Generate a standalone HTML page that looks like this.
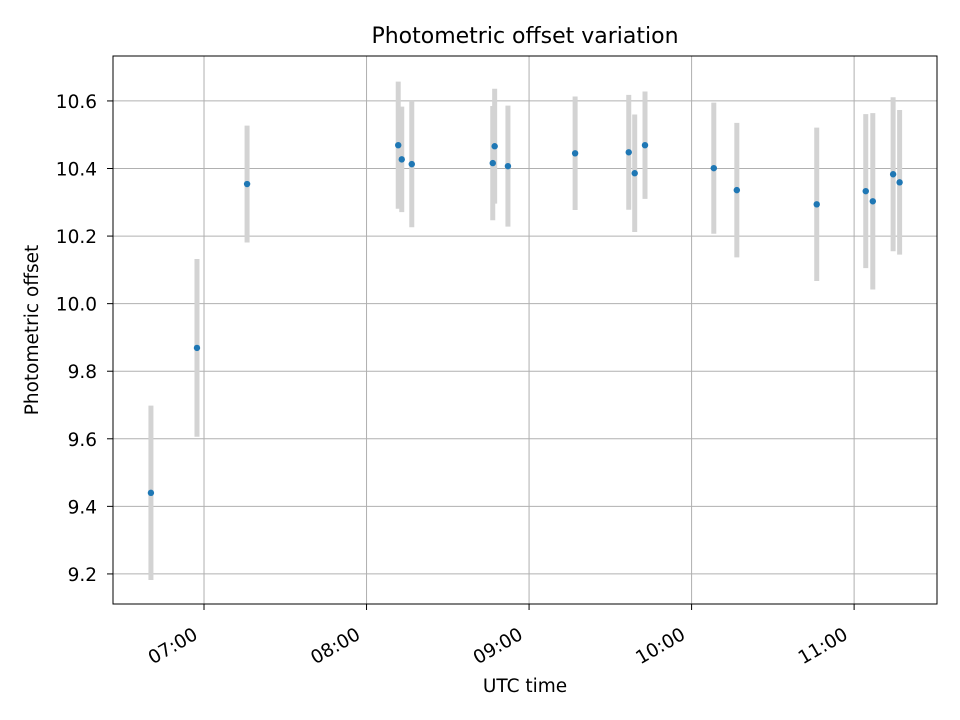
<!DOCTYPE html>
<html><head><meta charset="utf-8"><style>
html,body{margin:0;padding:0;background:#fff;}
svg{display:block;font-family:"DejaVu Sans","Liberation Sans",sans-serif;}
</style></head><body>
<svg id="chart" width="960" height="720" viewBox="0 0 960 720">
<rect width="960" height="720" fill="#fff"/>
<g id="grid"></g>
<g id="errs"></g>
<g id="pts"></g>
<rect x="113" y="56" width="824" height="548" fill="none" stroke="#000" stroke-width="1"/>
<g id="ticks"></g>
<text x="525" y="43" text-anchor="middle" font-size="22">Photometric offset variation</text>
<text x="525" y="692" text-anchor="middle" font-size="18.5">UTC time</text>
<text x="0" y="0" transform="translate(38,330) rotate(-90)" text-anchor="middle" font-size="18.5">Photometric offset</text>
</svg>
<script>
// times in minutes since midnight UTC
const times = [400.4,417.4,435.9,491.7,493.0,496.7,526.6,527.3,532.2,557.0,576.8,579.0,582.8,608.2,616.7,646.2,664.3,666.9,674.4,676.8];
const values = [9.44,9.869,10.354,10.469,10.427,10.413,10.416,10.466,10.407,10.445,10.448,10.386,10.469,10.401,10.336,10.294,10.333,10.303,10.383,10.359];
const errors = [0.258,0.263,0.173,0.188,0.156,0.187,0.169,0.170,0.179,0.168,0.170,0.174,0.159,0.194,0.199,0.227,0.228,0.261,0.228,0.214];
const xTickMinutes = [420,480,540,600,660];
const xTickLabels = ["07:00","08:00","09:00","10:00","11:00"];
const yTicks = [9.2,9.4,9.6,9.8,10.0,10.2,10.4,10.6];

const L=113,R=937,T=56,B=604;
const xMin=386.4,xMax=690.6,yMin=9.111,yMax=10.733;
const X=m=>L+(m-xMin)/(xMax-xMin)*(R-L);
const Y=v=>B-(v-yMin)/(yMax-yMin)*(B-T);
const NS="http://www.w3.org/2000/svg";
function mk(tag,attrs,parent){const e=document.createElementNS(NS,tag);for(const k in attrs)e.setAttribute(k,attrs[k]);parent.appendChild(e);return e;}
const grid=document.getElementById('grid'),ticks=document.getElementById('ticks');
const errs=document.getElementById('errs'),pts=document.getElementById('pts');

yTicks.forEach(v=>{
  const y=Y(v);
  const g=mk('line',{x1:L,x2:R,y1:y,y2:y,stroke:'#b0b0b0','stroke-width':1},grid);
  
  
  const t=mk('line',{x1:L-6,x2:L,y1:y,y2:y,stroke:'#000','stroke-width':1},ticks);
  
  
  const lb=mk('text',{x:L-16,y:y+7,'text-anchor':'end','font-size':18.5},ticks);
  lb.textContent=v.toFixed(1);
  
  
});
xTickMinutes.forEach((m,i)=>{
  const x=X(m);
  const g=mk('line',{x1:x,x2:x,y1:T,y2:B,stroke:'#b0b0b0','stroke-width':1},grid);
  
  
  const t=mk('line',{x1:x,x2:x,y1:B,y2:B+6,stroke:'#000','stroke-width':1},ticks);
  
  
  const lb=mk('text',{x:0,y:0,'text-anchor':'end','font-size':18.5,transform:`translate(${x-5},${B+34}) rotate(-30)`},ticks);
  lb.textContent=xTickLabels[i];
  
  
});
times.forEach((m,i)=>{
  const x=X(m);
  const e=mk('line',{x1:x,x2:x,y1:Y(values[i]+errors[i]),y2:Y(values[i]-errors[i]),stroke:'#d3d3d3','stroke-width':5},errs);
  
  
  const c=mk('circle',{cx:x,cy:Y(values[i]),r:3.2,fill:'#1f77b4'},pts);
  
  
});
</script>
</body></html>
